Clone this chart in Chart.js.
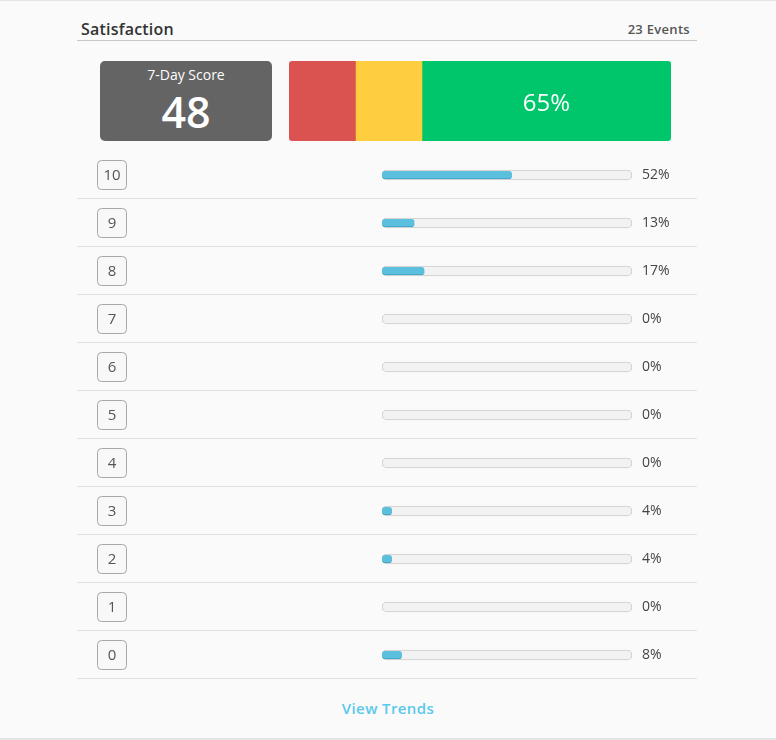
<!DOCTYPE html>
<html>
<head>
<meta charset="utf-8">
<script src="https://cdn.jsdelivr.net/npm/chart.js@4.4.1/dist/chart.umd.min.js"></script>
<style>
  html, body { margin:0; padding:0; }
  body { width:776px; height:740px; background:#fafafa; position:relative; overflow:hidden;
         font-family:"Open Sans", "Noto Sans", sans-serif; }
  .topline { position:absolute; left:0; top:0; width:776px; height:1px; background:#e4e4e4; }
  .botline { position:absolute; left:0; top:738px; width:776px; height:2px; background:#e4e4e4; }
  .title { position:absolute; left:81px; top:18px; font-size:16px; font-weight:600; color:#333; letter-spacing:0.2px; }
  .events { position:absolute; right:86px; top:20px; font-size:13px; font-weight:600; color:#555; letter-spacing:0.3px; }
  .hrule { position:absolute; left:77px; top:40px; width:620px; height:1px; background:#c8c8c8; }
  .score { position:absolute; left:100px; top:61px; width:172px; height:80px; background:#646464;
           border-radius:5px; color:#fff; text-align:center; }
  .score .lbl { position:absolute; left:0; right:0; top:4px; font-size:14px; }
  .score .val { position:absolute; left:0; right:0; top:25px; font-size:43px; font-weight:600; line-height:1.2; }
  .stackwrap { position:absolute; left:289px; top:61px; width:382px; height:80px; border-radius:3px; overflow:hidden; }
  .distwrap { position:absolute; left:77px; top:151px; width:620px; height:529px; }
  .trends { position:absolute; left:0; width:776px; top:698px; text-align:center; font-size:15px; font-weight:600; color:#5bc8ec; letter-spacing:0.4px; }
</style>
</head>
<body>
<div class="topline"></div>
<div class="title">Satisfaction</div>
<div class="events">23 Events</div>
<div class="hrule"></div>
<div class="score"><div class="lbl">7-Day Score</div><div class="val">48</div></div>
<div class="stackwrap"><canvas id="stack"></canvas></div>
<div class="distwrap"><canvas id="dist"></canvas></div>
<div class="trends">View Trends</div>
<div class="botline"></div>
<script>
// ---- data ----
const scoreLabels = ['10','9','8','7','6','5','4','3','2','1','0'];
const scorePercents = [52, 13, 17, 0, 0, 0, 0, 4, 4, 0, 8];
const groupNames = ['Detractors', 'Passives', 'Promoters'];
const groupPercents = [17.4, 17.4, 65.2];
const groupLabels = ['', '', '65%'];
const groupColors = ['#db5350', '#ffcd40', '#00c66b'];
const pctLabels = scorePercents.map(v => v + '%');

// ---- stacked NPS bar ----
const stackLabelPlugin = {
  id: 'stackLabel',
  afterDatasetsDraw(chart) {
    const ctx = chart.ctx;
    chart.data.datasets.forEach((ds, i) => {
      const txt = groupLabels[i];
      if (!txt) return;
      const el = chart.getDatasetMeta(i).data[0];
      const cx = (el.x + el.base) / 2;
      ctx.save();
      ctx.fillStyle = '#ffffff';
      ctx.font = '24px "Open Sans", sans-serif';
      ctx.textAlign = 'center';
      ctx.textBaseline = 'middle';
      ctx.fillText(txt, cx, el.y + 3);
      ctx.restore();
    });
  }
};
new Chart(document.getElementById('stack'), {
  type: 'bar',
  data: {
    labels: ['NPS'],
    datasets: groupNames.map((n, i) => ({
      label: n, data: [groupPercents[i]], backgroundColor: groupColors[i],
      barPercentage: 1, categoryPercentage: 1, borderWidth: 0
    }))
  },
  options: {
    indexAxis: 'y', responsive: true, maintainAspectRatio: false, animation: false,
    layout: { padding: 0 },
    plugins: { legend: { display: false }, tooltip: { enabled: false } },
    scales: {
      x: { stacked: true, display: false, min: 0, max: groupPercents.reduce((a, b) => a + b, 0) },
      y: { stacked: true, display: false }
    }
  },
  plugins: [stackLabelPlugin]
});

// ---- distribution ----
const badgePlugin = {
  id: 'badges',
  beforeDatasetsDraw(chart) {
    const ctx = chart.ctx;
    const ys = chart.scales.y;
    const n = scoreLabels.length;
    const rowH = (ys.bottom - ys.top) / n;
    ctx.save();
    // separators
    ctx.strokeStyle = '#e2e2e2';
    ctx.lineWidth = 1;
    for (let i = 0; i < n; i++) {
      const yb = Math.round(ys.getPixelForValue(i) + rowH / 2) - 0.5;
      ctx.beginPath();
      ctx.moveTo(0, yb);
      ctx.lineTo(chart.width, yb);
      ctx.stroke();
    }
    // badges
    for (let i = 0; i < n; i++) {
      const yc = ys.getPixelForValue(i);
      const x0 = 20.5, y0 = Math.round(yc - 15) + 0.5;
      ctx.beginPath();
      ctx.roundRect(x0, y0, 29, 29, 4);
      ctx.fillStyle = '#f8f8f8';
      ctx.fill();
      ctx.strokeStyle = '#a8a8a8';
      ctx.stroke();
      ctx.fillStyle = '#555';
      ctx.font = '15px "Open Sans", sans-serif';
      ctx.textAlign = 'center';
      ctx.textBaseline = 'middle';
      ctx.fillText(scoreLabels[i], x0 + 14.5, y0 + 15.5);
    }
    ctx.restore();
  }
};

function noVertPad(s) { s.paddingTop = 0; s.paddingBottom = 0; }

new Chart(document.getElementById('dist'), {
  type: 'bar',
  data: {
    labels: scoreLabels,
    datasets: [
      {
        label: 'Share', data: scorePercents, backgroundColor: '#5bc0de',
        borderColor: '#3e9fc0', borderWidth: { top: 0, left: 0, right: 0, bottom: 1 },
        borderSkipped: false, borderRadius: 3, barThickness: 8, grouped: false
      },
      {
        label: 'Track', data: scoreLabels.map(() => 100), backgroundColor: '#f2f2f2',
        borderColor: '#cdcdcd', borderWidth: 1, borderSkipped: false,
        borderRadius: 5, barThickness: 10, grouped: false
      }
    ]
  },
  options: {
    indexAxis: 'y', responsive: true, maintainAspectRatio: false, animation: false,
    layout: { padding: { top: 0, bottom: 1, left: 0, right: 0 } },
    plugins: { legend: { display: false }, tooltip: { enabled: false } },
    scales: {
      x: { display: false, min: 0, max: 100 },
      y: {
        position: 'left', offset: true,
        grid: { display: false }, border: { display: false },
        ticks: { display: false },
        afterFit(s) { s.width = 305; noVertPad(s); }
      },
      y2: {
        type: 'category', position: 'right', labels: pctLabels, offset: true,
        grid: { display: false, drawTicks: false }, border: { display: false },
        ticks: { padding: 10, color: '#444', font: { family: '"Open Sans", sans-serif', size: 14 } },
        afterFit(s) { s.width = 65; noVertPad(s); }
      }
    }
  },
  plugins: [badgePlugin]
});
</script>
</body>
</html>
